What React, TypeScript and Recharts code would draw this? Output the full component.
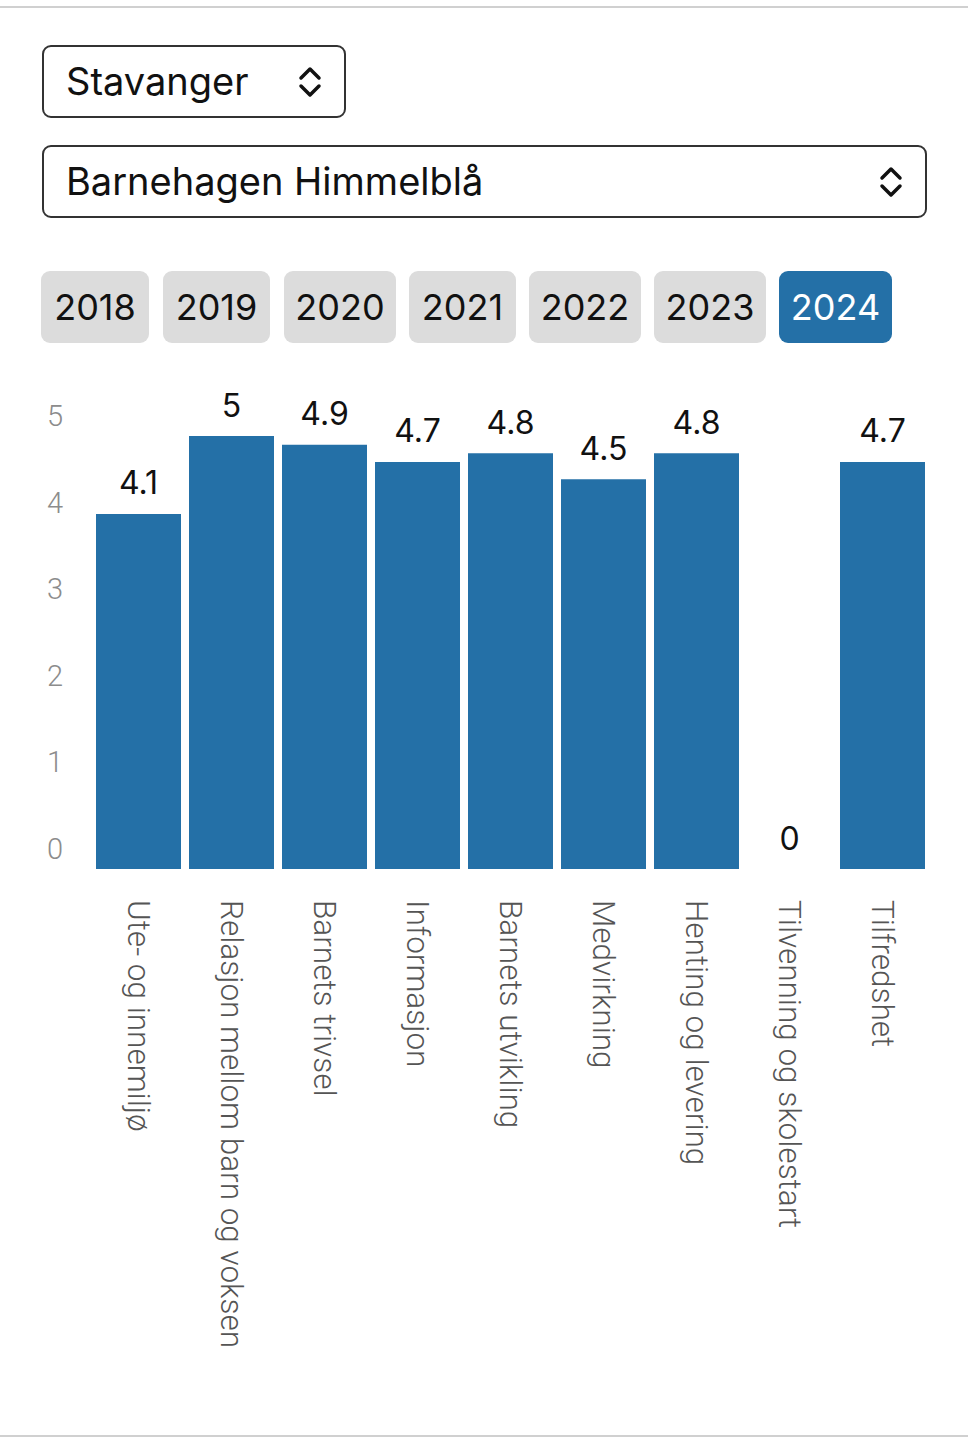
import { ComposedChart, Bar, Line, XAxis, YAxis, LabelList } from 'recharts';

const categories = [
  'Ute- og innemiljø',
  'Relasjon mellom barn og voksen',
  'Barnets trivsel',
  'Informasjon',
  'Barnets utvikling',
  'Medvirkning',
  'Henting og levering',
  'Tilvenning og skolestart',
  'Tilfredshet',
];
const scores = [4.1, 5, 4.9, 4.7, 4.8, 4.5, 4.8, 0, 4.7];
const yTicks = [0, 1, 2, 3, 4, 5];
const years = ['2018', '2019', '2020', '2021', '2022', '2023', '2024'];
const selectedYear = '2024';
const municipality = 'Stavanger';
const kindergarten = 'Barnehagen Himmelblå';

const data = categories.map((name, i) => ({ name, score: scores[i] }));

const BLUE = '#2470a7';
const UI_FONT = 'Inter, "Noto Sans", sans-serif';
const AXIS_FONT = 'Roboto, "Liberation Sans", sans-serif';

const Chevron = ({ left }: { left: number }) => (
  <svg width={28} height={34} viewBox="0 0 28 34" style={{ position: 'absolute', left, top: '50%', marginTop: -17 }}>
    <polyline points="5,13 14,4 23,13" fill="none" stroke="#111" strokeWidth={3.5} strokeLinecap="round" strokeLinejoin="round" />
    <polyline points="5,21 14,30 23,21" fill="none" stroke="#111" strokeWidth={3.5} strokeLinecap="round" strokeLinejoin="round" />
  </svg>
);

const SelectBox = ({ text, left, top, width, chevronLeft }: any) => (
  <div
    style={{
      position: 'absolute', left, top, width, height: 73, boxSizing: 'border-box',
      border: '2px solid #333', borderRadius: 9, background: '#fff',
    }}
  >
    <span style={{ position: 'absolute', left: 22, top: 0, lineHeight: '69px', fontSize: 38, color: '#111', fontFamily: UI_FONT }}>
      {text}
    </span>
    <Chevron left={chevronLeft} />
  </div>
);

const yearLefts = [41, 163, 284, 409, 529, 654, 779];
const yearWidths = [108, 107, 112, 107, 112, 112, 113];

const YTick = ({ y, payload }: any) => (
  <text x={55} y={y - 20} textAnchor="middle" dominantBaseline="central" fill="#8c8c8c" fontSize={29} fontWeight={300} fontFamily={AXIS_FONT}>
    {payload.value}
  </text>
);

const XTick = ({ x, y, payload }: any) => (
  <text
    x={x}
    y={y + 23}
    transform={`rotate(90, ${x}, ${y + 23})`}
    textAnchor="start"
    dominantBaseline="central"
    fill="#555"
    fontSize={31.5}
    fontWeight={300}
    fontFamily={AXIS_FONT}
  >
    {payload.value}
  </text>
);

const ValueLabel = ({ x, y, value }: any) => (
  <text x={x} y={y - 31} textAnchor="middle" dominantBaseline="central" fill="#111" fontSize={32} fontFamily={UI_FONT}>
    {value}
  </text>
);

export default function App() {
  return (
    <div style={{ position: 'absolute', left: 0, top: 0, width: 968, height: 1440, background: '#fff', overflow: 'hidden' }}>
      <div style={{ position: 'absolute', left: 0, top: 6, width: 968, height: 2, background: '#d0d0d0' }} />
      <div style={{ position: 'absolute', left: 0, top: 1435, width: 968, height: 2, background: '#d0d0d0' }} />

      <SelectBox text={municipality} left={42} top={45} width={304} chevronLeft={252} />
      <SelectBox text={kindergarten} left={42} top={145} width={885} chevronLeft={833} />

      {years.map((yr, i) => (
        <div
          key={yr}
          style={{
            position: 'absolute', left: yearLefts[i], top: 271, width: yearWidths[i], height: 72,
            borderRadius: 9, background: yr === selectedYear ? BLUE : '#dcdcdc',
            color: yr === selectedYear ? '#fff' : '#111', fontFamily: UI_FONT, fontSize: 36,
            lineHeight: '72px', textAlign: 'center',
          }}
        >
          {yr}
        </div>
      ))}

      <div style={{ position: 'absolute', left: 0, top: 360 }}>
        <ComposedChart
          width={968}
          height={1040}
          data={data}
          margin={{ top: 76, right: 39, bottom: 0, left: 0 }}
          barCategoryGap={4}
        >
          <XAxis
            dataKey="name"
            axisLine={false}
            tickLine={false}
            interval={0}
            height={531}
            tick={<XTick />}
          />
          <YAxis
            domain={[0, 5]}
            ticks={yTicks}
            axisLine={false}
            tickLine={false}
            width={92}
            tick={<YTick />}
          />
          <Bar dataKey="score" fill={BLUE} isAnimationActive={false} />
          <Line dataKey="score" stroke="none" dot={false} activeDot={false} isAnimationActive={false}>
            <LabelList dataKey="score" content={<ValueLabel />} />
          </Line>
        </ComposedChart>
      </div>
    </div>
  );
}
